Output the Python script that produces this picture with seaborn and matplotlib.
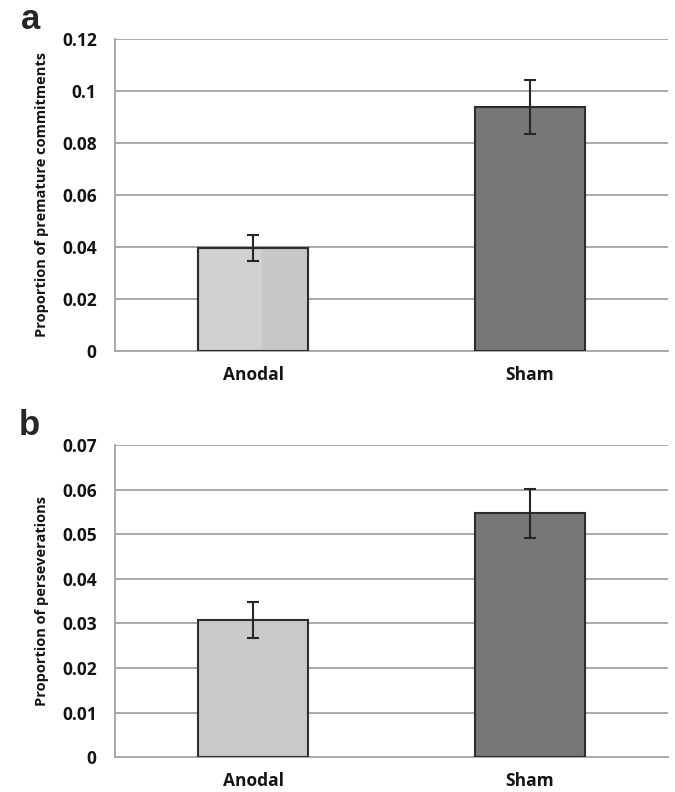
import numpy as np
import matplotlib
matplotlib.use('Agg')
import matplotlib.pyplot as plt
import matplotlib.patches as mpatches
import seaborn as sns

# data
groups = ['Anodal', 'Sham']
premature = [0.0396, 0.0938]
premature_err = [0.0050, 0.0105]
persev = [0.0307, 0.0547]
persev_err = [0.0040, 0.0055]

bar_colors = ['#d0d1d3', '#76777b']
bar_colors_b = ['#c8c9cb', '#76777b']

sns.set_style('white')
plt.rcParams['font.family'] = ['Open Sans', 'DejaVu Sans']

fig = plt.figure(figsize=(6.75, 7.92), dpi=100)
ax_a = fig.add_axes([0.170, 0.557, 0.820, 0.394])
ax_b = fig.add_axes([0.170, 0.044, 0.820, 0.394])

grid_col = '#a9a9a9'


def draw_panel(ax, vals, errs, colors, ymax, step, ylabel, fmt):
    sns.barplot(x=groups, y=vals, hue=groups, palette=colors, legend=False,
                width=0.4, edgecolor='#2e2e2e', linewidth=1.5, ax=ax, zorder=3)
    ax.errorbar(x=[0, 1], y=vals, yerr=errs, fmt='none', ecolor='#262626',
                elinewidth=1.5, capsize=4, capthick=1.5, zorder=4)
    ax.set_xlim(-0.5, 1.5)
    ax.set_ylim(0, ymax)
    ticks = np.round(np.arange(0, ymax + step / 2, step), 3)
    ax.set_yticks(ticks)
    ax.set_yticklabels([fmt(t) for t in ticks], fontsize=12.5, fontweight='bold',
                       color='#141414')
    ax.yaxis.grid(True, color=grid_col, linewidth=1.4, zorder=0)
    ax.set_axisbelow(True)
    ax.set_xticks([-0.5, 0.5, 1.5])
    ax.set_xticklabels([])
    ax.set_xticks([0, 1], minor=True)
    ax.set_xticklabels(groups, minor=True, fontsize=12.5, fontweight='bold',
                       color='#141414')
    ax.tick_params(axis='x', which='major', direction='out', length=6,
                   width=1.2, color=grid_col)
    ax.tick_params(axis='x', which='minor', length=0, pad=11)
    ax.tick_params(axis='y', direction='out', length=5, width=1.2,
                   color=grid_col, pad=8)
    for s in ['top', 'right']:
        ax.spines[s].set_visible(False)
    for s in ['left', 'bottom']:
        ax.spines[s].set_color(grid_col)
        ax.spines[s].set_linewidth(1.4)
    ax.set_xlabel('')
    ax.set_ylabel(ylabel, fontsize=10.5, fontweight='bold', color='#141414',
                  labelpad=9)


def fmt_val(t):
    if t == 0:
        return '0'
    return ('%g' % t)


draw_panel(ax_a, premature, premature_err, bar_colors, 0.12, 0.02,
           'Proportion of premature commitments', fmt_val)
draw_panel(ax_b, persev, persev_err, bar_colors_b, 0.07, 0.01,
           'Proportion of perseverations', fmt_val)

# slight two-tone shading on the anodal bar in panel a
p = ax_a.patches[0]
shade = mpatches.Rectangle((p.get_x() + p.get_width() * 0.58, 0.0),
                           p.get_width() * 0.42, p.get_height(),
                           facecolor='#c6c7c9', edgecolor='none', zorder=3.1)
ax_a.add_patch(shade)
edge = mpatches.Rectangle((p.get_x(), 0.0), p.get_width(), p.get_height(),
                          facecolor='none', edgecolor='#2e2e2e', linewidth=1.5,
                          zorder=3.2)
ax_a.add_patch(edge)

fig.text(0.046, 0.976, 'a', fontsize=25, fontweight='bold',
         family=['Liberation Sans', 'DejaVu Sans'], ha='center', va='center')
fig.text(0.043, 0.463, 'b', fontsize=25, fontweight='bold',
         family=['Liberation Sans', 'DejaVu Sans'], ha='center', va='center')

fig.savefig('out.png', dpi=100, facecolor='white')
